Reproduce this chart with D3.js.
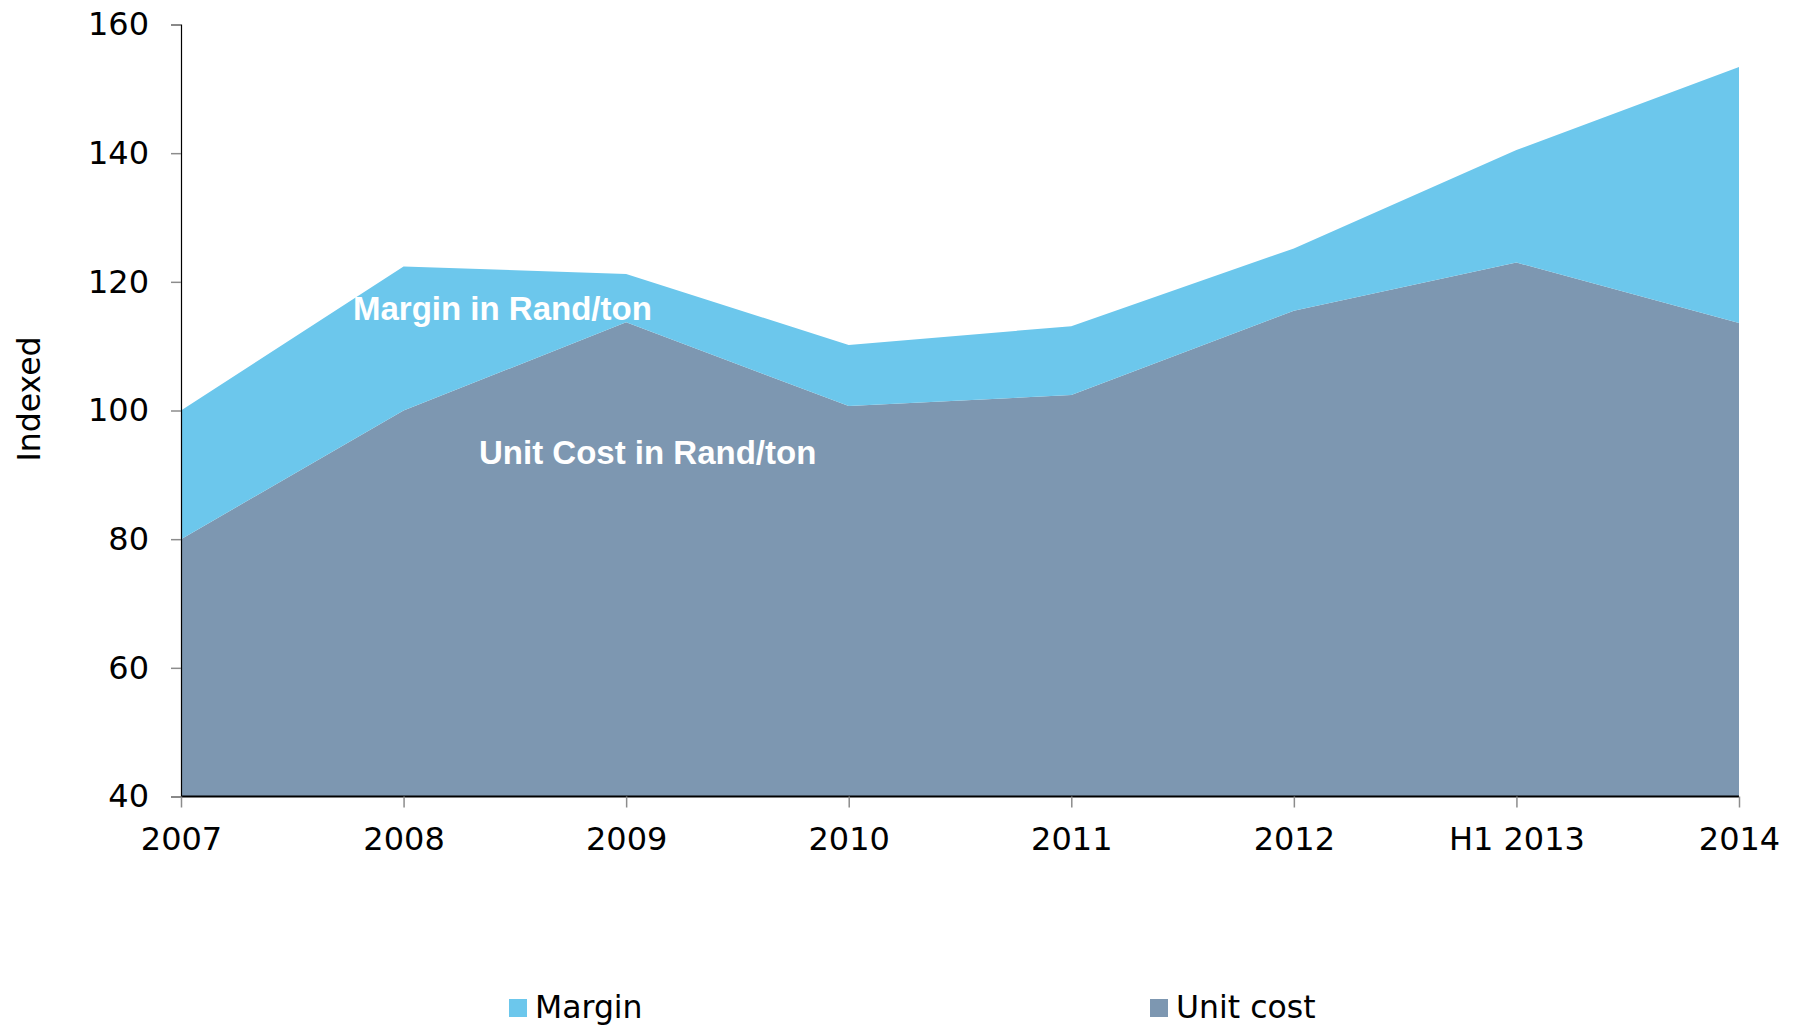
<!DOCTYPE html>
<meta charset="utf-8">
<html>
<style>
body { margin: 0; background: #fff; }
.axis text { font-family: "DejaVu Sans", Verdana, sans-serif; font-size: 32px; fill: #000; }
.axis .tick line { stroke: #8c8c8c; stroke-width: 1.5px; }
.note { font-family: "Liberation Sans", Arial, sans-serif; font-weight: bold; font-size: 33px; fill: #fff; }
.legend text, .ylabel { font-family: "DejaVu Sans", Verdana, sans-serif; font-size: 31.5px; fill: #000; }
</style>
<body>
<script src="https://cdn.jsdelivr.net/npm/d3@7"></script>
<script type="text/javascript">

// categories and series (indexed, 2007 margin top = 100)
var years = ["2007", "2008", "2009", "2010", "2011", "2012", "H1 2013", "2014"];
var unitCost = [80, 100, 113.7, 100.7, 102.4, 115.5, 123, 113.6];
var margin = [20, 22.4, 7.5, 9.5, 10.7, 9.7, 17.5, 39.8];
var yTicks = [40, 60, 80, 100, 120, 140, 160];

var seriesKeys = ["unitCost", "margin"];
var seriesNames = {unitCost: "Unit cost", margin: "Margin"};
var colors = {unitCost: "#7d97b1", margin: "#6cc7ec"};

var width = 1796, height = 1027;

var svg = d3.select("body").append("svg")
    .attr("width", width)
    .attr("height", height);

// scales
var x = d3.scalePoint().domain(years).range([181, 1739]);
var y = d3.scaleLinear().domain([40, 160]).range([796.5, 24.5]);

// build table for stack
var table = years.map(function(yr, i) {
  return {year: yr, unitCost: unitCost[i], margin: margin[i]};
});
var stacked = d3.stack().keys(seriesKeys)(table);

var area = d3.area()
    .x(function(d) { return x(d.data.year); })
    .y0(function(d) { return y(Math.max(d[0], 40)); })
    .y1(function(d) { return y(d[1]); });

// unit cost stacks from the axis floor
stacked[0].forEach(function(d) { d[0] = 40; });

svg.append("g").selectAll("path")
  .data(stacked)
  .enter().append("path")
    .attr("d", area)
    .attr("fill", function(d) { return colors[d.key]; });

// y axis
var yAxis = svg.append("g")
    .attr("class", "axis")
    .attr("transform", "translate(181,0)")
    .call(d3.axisLeft(y).tickValues(yTicks).tickSize(10).tickPadding(22).tickFormat(d3.format("d")));
yAxis.select(".domain").attr("stroke", "#000").attr("stroke-width", 1.2);

// x axis
var xAxis = svg.append("g")
    .attr("class", "axis")
    .attr("transform", "translate(0,796.5)")
    .call(d3.axisBottom(x).tickSize(11).tickPadding(20));
xAxis.select(".domain").attr("stroke", "#000").attr("stroke-width", 2).attr("d", "M181,0H1739");

// y label
svg.append("text")
    .attr("class", "ylabel")
    .attr("transform", "translate(40,399) rotate(-90)")
    .attr("text-anchor", "middle")
    .text("Indexed");

// in-chart notes
svg.append("text").attr("class", "note")
    .attr("x", 353).attr("y", 319.5)
    .text("Margin in Rand/ton");
svg.append("text").attr("class", "note")
    .attr("x", 479).attr("y", 464)
    .text("Unit Cost in Rand/ton");

// legend
var legendItems = [
  {key: "margin", x: 509},
  {key: "unitCost", x: 1150}
];
var legend = svg.append("g").attr("class", "legend")
  .selectAll("g")
  .data(legendItems)
  .enter().append("g")
    .attr("transform", function(d) { return "translate(" + d.x + ",999)"; });
legend.append("rect")
    .attr("width", 18).attr("height", 18)
    .attr("fill", function(d) { return colors[d.key]; });
legend.append("text")
    .attr("x", 26).attr("y", 19)
    .text(function(d) { return seriesNames[d.key]; });

</script>
</body>
</html>
